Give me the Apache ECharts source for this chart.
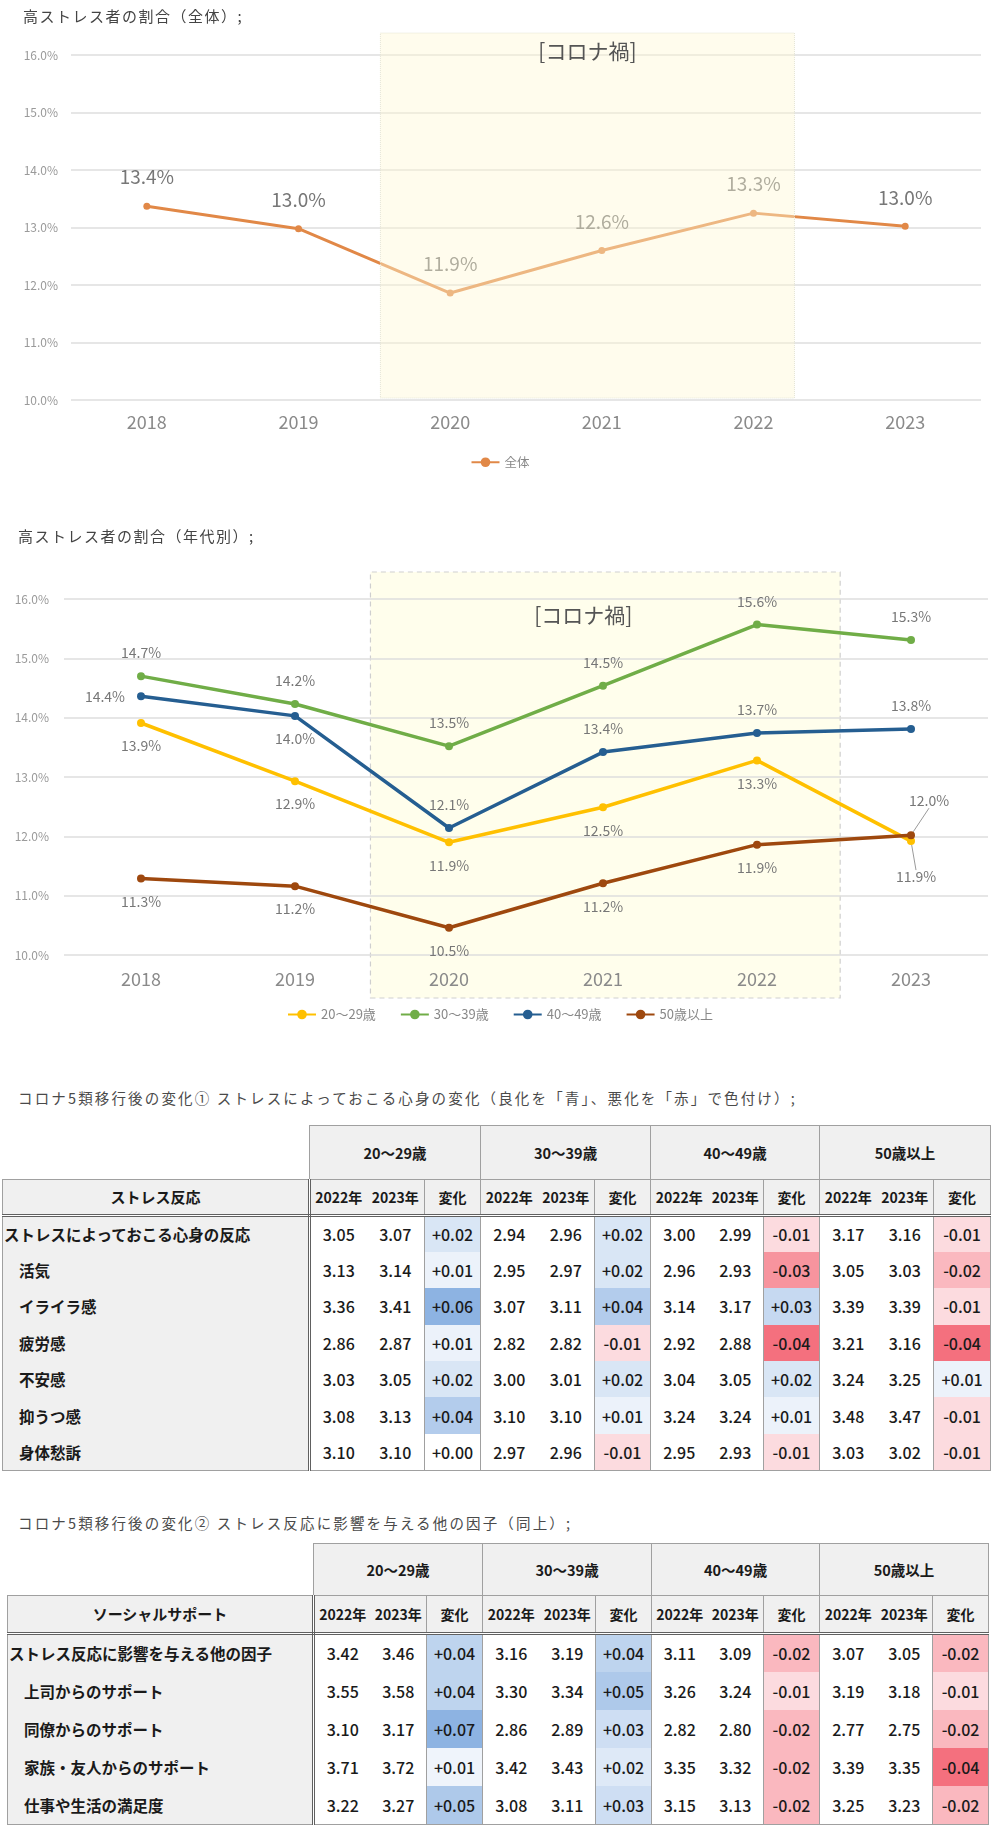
<!DOCTYPE html>
<html>
<head>
<meta charset="utf-8">
<script src="https://cdn.jsdelivr.net/npm/echarts@6/dist/echarts.min.js"></script>
<style>
html,body{margin:0;padding:0;background:#fff;}
body{width:1000px;height:1834px;position:relative;overflow:hidden;font-family:"Noto Sans CJK JP","Noto Sans",sans-serif;}
#chart{position:absolute;left:0;top:0;width:1000px;height:1040px;}
.ttl{position:absolute;left:18px;font-size:14.5px;letter-spacing:2.15px;color:#4a4a4a;line-height:20px;white-space:nowrap;}
.ctl{position:absolute;font-size:15px;letter-spacing:1.5px;color:#444;line-height:20px;white-space:nowrap;}
table.tb{position:absolute;border-collapse:collapse;table-layout:fixed;font-size:16px;color:#1a1a1a;}
.tb td{padding:0;text-align:center;white-space:nowrap;overflow:hidden;line-height:18px;font-weight:500;}
.tb td.blank{border:none;background:#fff;}
.tb td.g{background:#f0f0f0;border:1px solid #a0a0a0;font-weight:700;font-size:14.5px;}
.tb td.lh{background:#f0f0f0;border:1px solid #a0a0a0;border-right:3px double #606060;border-bottom:3px double #606060;font-weight:700;font-size:15px;}
.tb td.yh{background:#f0f0f0;border-top:1px solid #a0a0a0;border-bottom:3px double #606060;font-weight:700;font-size:14px;}
.tb td.ch{border-left:1px solid #a0a0a0;border-right:1px solid #a0a0a0;}
.tb td.lab{background:#f0f0f0;border-left:1px solid #a0a0a0;border-right:3px double #606060;text-align:left;font-weight:700;font-size:15.5px;}
.tb td.lab.top{padding-left:1px;}
.tb td.lab.sub{padding-left:16px;}
.tb td.chg{border-left:1px solid #a0a0a0;border-right:1px solid #a0a0a0;}
.tb tr.last td{border-bottom:1px solid #a0a0a0;}
</style>
</head>
<body>
<div id="chart"></div>
<div class="ctl" id="c1title" style="left:23px;top:6px;"></div>
<div class="ctl" id="c2title" style="left:18px;top:526px;"></div>
<div class="ttl" id="t1title" style="top:1088px;"></div>
<table class="tb" id="tb1" style="left:2px;top:1125px;"></table>
<div class="ttl" id="t2title" style="top:1513px;"></div>
<table class="tb" id="tb2" style="left:7px;top:1543px;"></table>
<script>
// ---------- chart data ----------
const years = ['2018', '2019', '2020', '2021', '2022', '2023'];
const overallName = '全体';
const overallRate = [13.37, 12.98, 11.86, 12.60, 13.25, 13.02];
const ageGroups = ['20～29歳', '30～39歳', '40～49歳', '50歳以上'];
const rate20s = [13.91, 12.93, 11.90, 12.49, 13.28, 11.92];
const rate30s = [14.70, 14.23, 13.52, 14.54, 15.57, 15.31];
const rate40s = [14.36, 14.03, 12.14, 13.42, 13.74, 13.81];
const rate50s = [11.29, 11.16, 10.46, 11.21, 11.86, 12.02];
const covidLabel = '[コロナ禍]';
const covidSpanTop = [1.54, 4.27];     // on a -0.5..5.5 category-index scale
const covidSpanBottom = [1.49, 4.54];
const chartTitle1 = '高ストレス者の割合（全体）;';
const chartTitle2 = '高ストレス者の割合（年代別）;';

// ---------- table data ----------
const subHeads = ['2022年', '2023年', '変化'];
const table1Title = 'コロナ5類移行後の変化① ストレスによっておこる心身の変化（良化を「青」、悪化を「赤」で色付け）;';
const table1Head = 'ストレス反応';
const table1Rows = ['ストレスによっておこる心身の反応', '活気', 'イライラ感', '疲労感', '不安感', '抑うつ感', '身体愁訴'];
// rows x [20s, 30s, 40s, 50+]
const t1y2022 = [
  [3.05, 2.94, 3.00, 3.17],
  [3.13, 2.95, 2.96, 3.05],
  [3.36, 3.07, 3.14, 3.39],
  [2.86, 2.82, 2.92, 3.21],
  [3.03, 3.00, 3.04, 3.24],
  [3.08, 3.10, 3.24, 3.48],
  [3.10, 2.97, 2.95, 3.03]
];
const t1y2023 = [
  [3.07, 2.96, 2.99, 3.16],
  [3.14, 2.97, 2.93, 3.03],
  [3.41, 3.11, 3.17, 3.39],
  [2.87, 2.82, 2.88, 3.16],
  [3.05, 3.01, 3.05, 3.25],
  [3.13, 3.10, 3.24, 3.47],
  [3.10, 2.96, 2.93, 3.02]
];
const t1diff = [
  [0.02, 0.02, -0.01, -0.01],
  [0.01, 0.02, -0.03, -0.02],
  [0.06, 0.04, 0.03, -0.01],
  [0.01, -0.01, -0.04, -0.04],
  [0.02, 0.02, 0.02, 0.01],
  [0.04, 0.01, 0.01, -0.01],
  [0.00, -0.01, -0.01, -0.01]
];
const table2Title = 'コロナ5類移行後の変化② ストレス反応に影響を与える他の因子（同上）;';
const table2Head = 'ソーシャルサポート';
const table2Rows = ['ストレス反応に影響を与える他の因子', '上司からのサポート', '同僚からのサポート', '家族・友人からのサポート', '仕事や生活の満足度'];
const t2y2022 = [
  [3.42, 3.16, 3.11, 3.07],
  [3.55, 3.30, 3.26, 3.19],
  [3.10, 2.86, 2.82, 2.77],
  [3.71, 3.42, 3.35, 3.39],
  [3.22, 3.08, 3.15, 3.25]
];
const t2y2023 = [
  [3.46, 3.19, 3.09, 3.05],
  [3.58, 3.34, 3.24, 3.18],
  [3.17, 2.89, 2.80, 2.75],
  [3.72, 3.43, 3.32, 3.35],
  [3.27, 3.11, 3.13, 3.23]
];
const t2diff = [
  [0.04, 0.04, -0.02, -0.02],
  [0.04, 0.05, -0.01, -0.01],
  [0.07, 0.03, -0.02, -0.02],
  [0.01, 0.02, -0.02, -0.04],
  [0.05, 0.03, -0.02, -0.02]
];

// ---------- styles (kept apart from data) ----------
const FONT = '"Noto Sans CJK JP", "Noto Sans", sans-serif';
const ageColors = ['#FFC000', '#70AD47', '#255E91', '#9E480E'];
const overallColor = '#E18847';
const labelPos = [
  ['bottom', 'bottom', 'bottom', 'bottom', 'bottom', 'bottom'],
  ['top', 'top', 'top', 'top', 'top', 'top'],
  ['left', 'bottom', 'top', 'top', 'top', 'top'],
  ['bottom', 'bottom', 'bottom', 'bottom', 'bottom', 'top']
];
const movedLabels = { 0: { 5: { dx: 5, dy: 13 } }, 3: { 5: { dx: 18, dy: -11 } } };
const pct = p => (typeof p.value === 'number' ? p.value : p.value[1]).toFixed(1) + '%';

const ageRates = [rate20s, rate30s, rate40s, rate50s];

const ageSeries = ageGroups.map((name, s) => ({
  type: 'line', name: name, xAxisIndex: 2, yAxisIndex: 2,
  color: ageColors[s], symbol: 'circle', symbolSize: 8,
  lineStyle: { width: 3.5 }, z: 3,
  data: ageRates[s].map((v, i) => {
    const item = { value: v, label: { position: labelPos[s][i] } };
    if (movedLabels[s] && movedLabels[s][i]) item.labelLine = { show: true, lineStyle: { color: '#9a9a9a', width: 1 } };
    return item;
  }),
  label: { show: true, distance: 12, fontSize: 14, color: '#777', formatter: pct },
  labelLayout: function (p) {
    const m = movedLabels[s] && movedLabels[s][p.dataIndex];
    return m ? { dx: m.dx, dy: m.dy } : {};
  }
}));

document.getElementById('c1title').textContent = chartTitle1;
document.getElementById('c2title').textContent = chartTitle2;

const chart = echarts.init(document.getElementById('chart'), null, { renderer: 'canvas' });
chart.setOption({
  animation: false,
  textStyle: { fontFamily: FONT },
  legend: [
    { data: [overallName], top: 451, left: 'center', itemWidth: 28, itemHeight: 12, textStyle: { fontSize: 12.5, color: '#888', fontFamily: FONT } },
    { data: ageGroups, top: 1003, left: 'center', itemGap: 24, itemWidth: 28, itemHeight: 12, textStyle: { fontSize: 13, color: '#888', fontFamily: FONT } }
  ],
  grid: [
    { left: 71, right: 19, top: 55, height: 345, outerBoundsMode: 'none' },
    { left: 71, right: 19, top: 33, height: 365, outerBoundsMode: 'none' },
    { left: 64, right: 12, top: 599, height: 356, outerBoundsMode: 'none' },
    { left: 64, right: 12, top: 572, height: 426, outerBoundsMode: 'none' }
  ],
  xAxis: [
    { type: 'category', gridIndex: 0, data: years, axisLine: { show: false }, axisTick: { show: false },
      axisLabel: { fontSize: 18, color: '#8a8a8a', margin: 13 } },
    { type: 'value', gridIndex: 1, min: -0.5, max: 5.5, show: false },
    { type: 'category', gridIndex: 2, data: years, z: 2, axisLine: { show: false }, axisTick: { show: false },
      axisLabel: { fontSize: 18, color: '#8a8a8a', margin: 15 } },
    { type: 'value', gridIndex: 3, min: -0.5, max: 5.5, show: false }
  ],
  yAxis: [
    { type: 'value', gridIndex: 0, min: 10, max: 16, interval: 1,
      axisLabel: { fontSize: 12, color: '#9a9a9a', margin: 13, formatter: v => v.toFixed(1) + '%' },
      splitLine: { lineStyle: { color: '#dedede', width: 1.5 } } },
    { type: 'value', gridIndex: 1, min: 0, max: 1, show: false },
    { type: 'value', gridIndex: 2, min: 10, max: 16, interval: 1, z: 2,
      axisLabel: { fontSize: 12, color: '#9a9a9a', margin: 15, formatter: v => v.toFixed(1) + '%' },
      splitLine: { lineStyle: { color: '#dedede', width: 1.5 } } },
    { type: 'value', gridIndex: 3, min: 0, max: 1, show: false }
  ],
  series: [
    { type: 'line', name: overallName, xAxisIndex: 0, yAxisIndex: 0, data: overallRate,
      color: overallColor, symbol: 'circle', symbolSize: 7, lineStyle: { width: 3 },
      label: { show: true, position: 'top', distance: 16, fontSize: 19, color: '#777', formatter: pct } },
    { type: 'line', name: 'band1', xAxisIndex: 1, yAxisIndex: 1, data: [], silent: true, z: 10,
      markArea: { silent: true, z: 10,
        itemStyle: { color: 'rgba(255,248,212,0.42)', borderColor: '#e4e4d4', borderWidth: 1, borderType: 'dotted' },
        label: { show: true, position: 'insideTop', distance: 8, fontSize: 21, color: '#555', fontFamily: FONT },
        data: [[{ name: covidLabel, coord: [covidSpanTop[0], 0] }, { coord: [covidSpanTop[1], 1] }]] } },
    { type: 'line', name: 'band2', xAxisIndex: 3, yAxisIndex: 3, data: [], silent: true, z: 1,
      markArea: { silent: true, z: 1,
        itemStyle: { color: '#FFFEEC', borderColor: '#cfcfcf', borderWidth: 1.2, borderType: [5, 4] },
        label: { show: true, position: 'insideTop', distance: 33, offset: [-22, 0], fontSize: 21, color: '#555', fontFamily: FONT },
        data: [[{ name: covidLabel, coord: [covidSpanBottom[0], 0] }, { coord: [covidSpanBottom[1], 1] }]] } }
  ].concat(ageSeries)
});

// ---------- tables ----------
function changeColor(v, maxPos, maxNeg) {
  const blue = [141, 179, 226], red = [244, 112, 126];
  let t, c;
  if (v > 0) { t = v / maxPos; c = blue; }
  else if (v < 0) { t = -v / maxNeg; c = red; }
  else return '#ffffff';
  t = Math.min(1, t);
  return 'rgb(' + c.map(x => Math.round(255 + (x - 255) * t)).join(',') + ')';
}
function buildTable(el, head, rows, v22, v23, diff, cols, h1, h2, rh) {
  const flat = diff.flat();
  const maxPos = Math.max.apply(null, flat.filter(v => v > 0));
  const maxNeg = Math.max.apply(null, flat.filter(v => v < 0).map(v => -v));
  const total = cols.reduce((a, b) => a + b, 0);
  el.style.width = total + 'px';
  let h = '<colgroup>' + cols.map(w => '<col style="width:' + w + 'px">').join('') + '</colgroup>';
  h += '<tr style="height:' + h1 + 'px"><td class="blank"></td>' +
    ageGroups.map(g => '<td colspan="3" class="g">' + g + '</td>').join('') + '</tr>';
  h += '<tr style="height:' + h2 + 'px"><td class="lh">' + head + '</td>' +
    ageGroups.map(() => '<td class="yh">' + subHeads[0] + '</td><td class="yh">' + subHeads[1] +
      '</td><td class="yh ch">' + subHeads[2] + '</td>').join('') + '</tr>';
  rows.forEach((lab, r) => {
    const last = r === rows.length - 1;
    h += '<tr style="height:' + rh + 'px"' + (last ? ' class="last"' : '') + '><td class="lab ' + (r === 0 ? 'top' : 'sub') + '">' + lab + '</td>';
    for (let g = 0; g < ageGroups.length; g++) {
      const d = diff[r][g];
      h += '<td>' + v22[r][g].toFixed(2) + '</td><td>' + v23[r][g].toFixed(2) + '</td>' +
        '<td class="chg" style="background:' + changeColor(d, maxPos, maxNeg) + '">' +
        (d < 0 ? '-' : '+') + Math.abs(d).toFixed(2) + '</td>';
    }
    h += '</tr>';
  });
  el.innerHTML = h;
}
document.getElementById('t1title').textContent = table1Title;
document.getElementById('t2title').textContent = table2Title;
buildTable(document.getElementById('tb1'), table1Head, table1Rows, t1y2022, t1y2023, t1diff,
  [307, 57, 58, 56, 57, 57, 56, 57, 56, 56, 57, 57, 57], 54, 36, 36.4);
buildTable(document.getElementById('tb2'), table2Head, table2Rows, t2y2022, t2y2023, t2diff,
  [306, 57, 56, 56, 57, 56, 56, 56, 56, 56, 57, 56, 56], 52, 38, 38.2);
</script>
</body>
</html>
